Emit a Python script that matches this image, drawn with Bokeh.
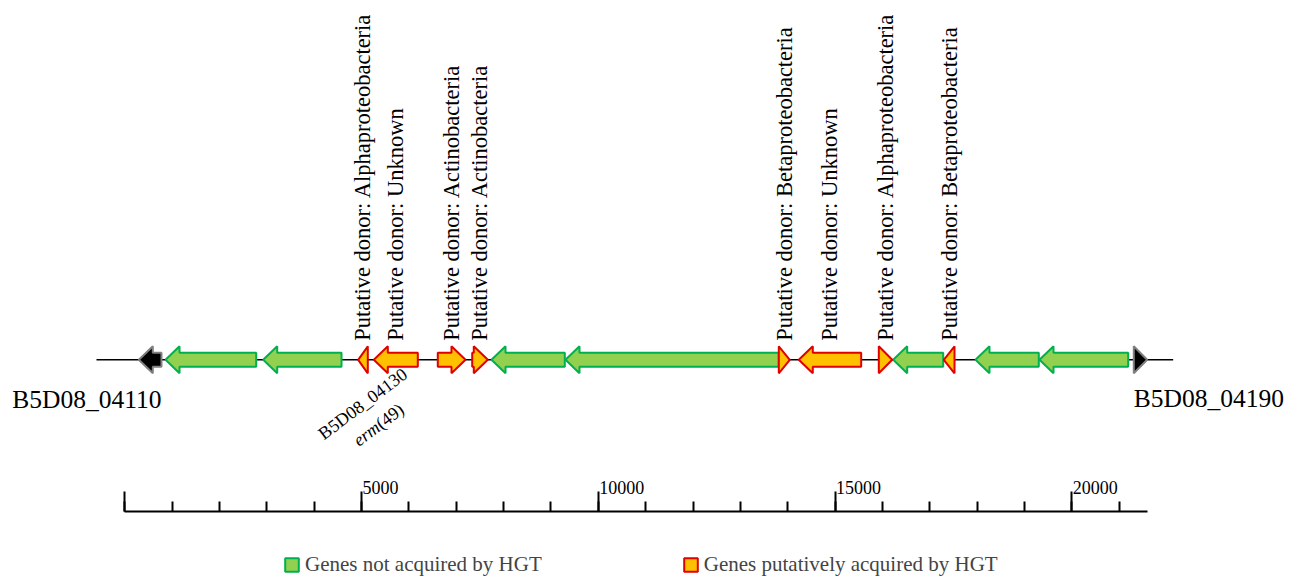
import math
from bokeh.plotting import figure
from bokeh.models import Range1d, LinearAxis, FixedTicker, Legend, LegendItem
from bokeh.core.properties import value
from bokeh.embed import file_html
from bokeh.resources import INLINE

# ---------------- data (bp) ----------------
gene_start = [296, 860, 2923, 4929, 5259, 6610, 7337, 7745, 9307, 13812, 14234, 15924, 16228, 17297, 17966, 19318, 21309]
gene_end = [775, 2775, 4577, 5132, 6188, 7195, 7666, 9293, 13812, 14044, 15552, 16207, 17284, 17523, 19303, 21191, 21592]
gene_strand = [-1, -1, -1, -1, -1, 1, 1, -1, -1, 1, -1, 1, -1, -1, -1, -1, 1]
gene_class = ["flank", "native", "native", "hgt", "hgt", "hgt", "hgt", "native", "native",
              "hgt", "hgt", "hgt", "native", "hgt", "native", "native", "flank"]
donor = ["", "", "", "Alphaproteobacteria", "Unknown", "Actinobacteria", "Actinobacteria", "", "",
         "Betaproteobacteria", "Unknown", "Alphaproteobacteria", "", "Betaproteobacteria", "", "", ""]
flank_left_label = "B5D08_04110"
flank_right_label = "B5D08_04190"
erm_locus = "B5D08_04130"
erm_gene_index = 4
backbone = [-598, 22141]

scale_major = [0, 5000, 10000, 15000, 20000]
scale_minor = list(range(0, 22000, 1000))
scale_labels = ["", "5000", "10000", "15000", "20000"]
scale_end = 21592

legend_labels = ["Genes not acquired by HGT", "Genes putatively acquired by HGT"]

# ---------------- layout / style ----------------
W, H = 1291, 577
PX_PER_BP = 0.04735
X0_PX = 124.3                     # canvas x of bp 0
FONT_NAME = "Liberation Serif"
FONT = value(FONT_NAME)
Y0 = 359.3                        # track centre (data y == canvas pixel y)
BODY, HEAD = 7.0, 13.5
HEAD_BP = 14 / PX_PER_BP
SCALE_Y = 510.7

colors = {
    "native": ("#92D050", "#00B050"),
    "hgt": ("#FFC000", "#E00000"),
    "flank": ("#000000", "#808080"),
}

xs0 = -X0_PX / PX_PER_BP
p = figure(width=W, height=H, output_backend="svg", toolbar_location=None,
           x_range=Range1d(xs0, xs0 + W / PX_PER_BP), y_range=Range1d(H, 0),
           x_axis_type=None, y_axis_type=None, min_border=0)
p.outline_line_color = None
p.background_fill_color = "white"
p.border_fill_color = "white"

# backbone
p.line(x=backbone, y=[Y0, Y0], line_color="black", line_width=1.5)


def arrow(s, e, strand):
    L = e - s
    h = min(HEAD_BP, L)
    if strand < 0:
        b = s + h
        if h >= L:
            return [s, e, e], [Y0, Y0 - HEAD, Y0 + HEAD]
        return ([s, b, b, e, e, b, b],
                [Y0, Y0 - HEAD, Y0 - BODY, Y0 - BODY, Y0 + BODY, Y0 + BODY, Y0 + HEAD])
    b = e - h
    if h >= L:
        return [e, s, s], [Y0, Y0 - HEAD, Y0 + HEAD]
    return ([e, b, b, s, s, b, b],
            [Y0, Y0 - HEAD, Y0 - BODY, Y0 - BODY, Y0 + BODY, Y0 + BODY, Y0 + HEAD])


renderers = {}
for cls in ["flank", "native", "hgt"]:
    xs, ys = [], []
    for s, e, st, c in zip(gene_start, gene_end, gene_strand, gene_class):
        if c == cls:
            ax_, ay_ = arrow(s, e, st)
            xs.append(ax_)
            ys.append(ay_)
    fill, line = colors[cls]
    renderers[cls] = p.patches(xs=xs, ys=ys, fill_color=fill, line_color=line, line_width=2)

# donor labels
lab_x, lab_t = [], []
for s, e, d in zip(gene_start, gene_end, donor):
    if d:
        lab_x.append((s + e) / 2)
        lab_t.append("Putative donor: " + d)
p.text(x=lab_x, y=[Y0] * len(lab_x), text=lab_t, angle=math.pi / 2,
       text_align="left", text_baseline="middle", y_offset=-19,
       text_font=FONT, text_font_size="22.5px", text_color="black")

# flank labels
p.text(x=[gene_end[0]], y=[Y0], text=[flank_left_label], text_align="right",
       text_baseline="alphabetic", y_offset=40, text_font=FONT, text_font_size="25.5px", text_color="black")
p.text(x=[gene_start[-1]], y=[Y0], text=[flank_right_label], text_align="left",
       text_baseline="alphabetic", y_offset=39, text_font=FONT, text_font_size="25.5px", text_color="black")

# erm(49) label
ang = math.radians(37)
gx = (gene_start[erm_gene_index] + gene_end[erm_gene_index]) / 2
p.text(x=[gx], y=[Y0], text=[erm_locus], angle=ang, text_align="center", text_baseline="middle",
       x_offset=-33, y_offset=44, text_font=FONT, text_font_size="18px", text_color="black")
p.text(x=[gx], y=[Y0], text=["erm"], angle=ang, text_align="right", text_baseline="middle",
       x_offset=-18, y_offset=65.5, text_font=FONT, text_font_size="18px", text_font_style="italic",
       text_color="black")
p.text(x=[gx], y=[Y0], text=["(49)"], angle=ang, text_align="left", text_baseline="middle",
       x_offset=-18, y_offset=65.5, text_font=FONT, text_font_size="18px", text_color="black")

# scale bar as an axis at a fixed location
ax = LinearAxis(ticker=FixedTicker(ticks=scale_major, minor_ticks=scale_minor),
                fixed_location=SCALE_Y, bounds=(0, scale_end))
ax.axis_line_width = 2
ax.axis_line_color = "black"
ax.major_tick_out = 20
ax.major_tick_in = 0
ax.minor_tick_out = 10
ax.minor_tick_in = 0
ax.major_tick_line_width = 2
ax.minor_tick_line_width = 2
ax.major_label_text_color = None
p.add_layout(ax, "above")

p.text(x=scale_major[1:], y=[SCALE_Y] * (len(scale_major) - 1), text=scale_labels[1:],
       text_align="left", text_baseline="alphabetic", x_offset=1, y_offset=-24,
       text_font=FONT, text_font_size="18px", text_color="black")

legend = Legend(items=[LegendItem(label=legend_labels[0], renderers=[renderers["native"]]),
                       LegendItem(label=legend_labels[1], renderers=[renderers["hgt"]])],
                orientation="horizontal", location=(283, 0), padding=0, spacing=140,
                glyph_width=17, glyph_height=17, label_standoff=5, margin=0,
                label_text_font=FONT_NAME, label_text_font_size="21px",
                border_line_color=None, background_fill_alpha=0)
p.add_layout(legend)

open("out.html", "w").write(file_html(p, INLINE))
